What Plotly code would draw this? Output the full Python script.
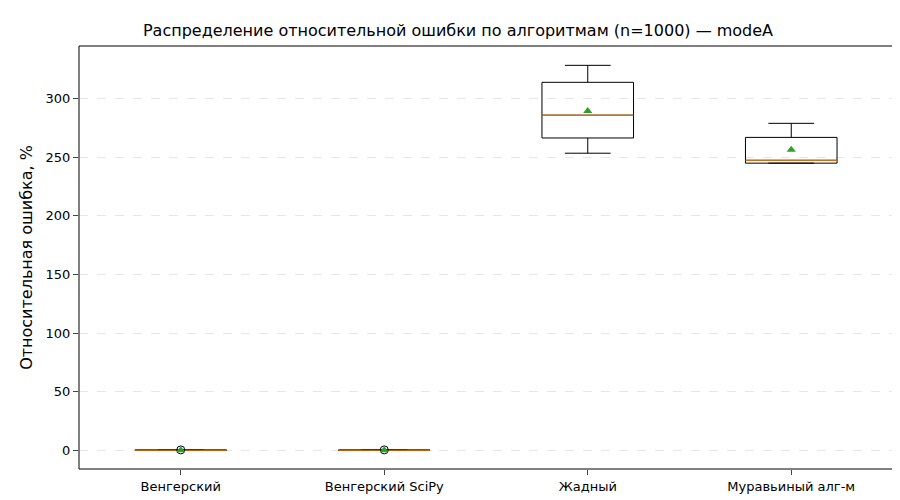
import plotly.graph_objects as go

categories = ["Венгерский", "Венгерский SciPy", "Жадный", "Муравьиный алг-м"]
positions = [1, 2, 3, 4]
lower = [0.0, 0.0, 253.5, 245.0]
q1 = [0.0, 0.0, 266.5, 245.0]
median = [0.0, 0.0, 286.0, 247.5]
q3 = [0.2, 0.2, 314.0, 267.0]
upper = [0.2, 0.2, 328.5, 279.0]
means = [0.0, 0.0, 289.5, 256.5]
outlier_x = [1, 2]
outlier_y = [0.3, 0.3]

fig = go.Figure()
fig.add_trace(go.Box(
    x=positions, q1=q1, median=median, q3=q3, lowerfence=lower, upperfence=upper,
    width=0.45, whiskerwidth=0.5, line=dict(color="black", width=1),
    fillcolor="rgba(0,0,0,0)", boxpoints=False, showlegend=False, hoverinfo="skip",
))

# orange median lines
mx, my = [], []
for p, m in zip(positions, median):
    mx += [p - 0.225, p + 0.225, None]
    my += [m, m, None]
fig.add_trace(go.Scatter(x=mx, y=my, mode="lines", line=dict(color="#ff7f0e", width=1),
                         showlegend=False))
fig.add_trace(go.Scatter(x=outlier_x, y=outlier_y, mode="markers",
                         marker=dict(symbol="circle-open", size=8, color="black", line=dict(width=1)),
                         showlegend=False))
fig.add_trace(go.Scatter(x=positions, y=means, mode="markers",
                         marker=dict(symbol="triangle-up", size=8, color="#2ca02c"),
                         showlegend=False))

fig.update_layout(
    width=900, height=500, plot_bgcolor="white", paper_bgcolor="white",
    margin=dict(l=71, r=15, t=38, b=39, autoexpand=False),
    font=dict(family="DejaVu Sans", size=13, color="black"),
    title=dict(text="Распределение относительной ошибки по алгоритмам (n=1000) — modeA",
               x=0.5, xanchor="center", y=0.955, yanchor="middle", font=dict(size=16)),
    shapes=[dict(type="rect", xref="paper", yref="paper", x0=0, x1=1, y0=0, y1=1,
                 line=dict(color="black", width=1), layer="above")],
)
fig.update_xaxes(range=[0.5, 4.5], tickvals=positions, ticktext=categories,
                 ticks="outside", showgrid=False, zeroline=False, automargin=False)
fig.update_yaxes(range=[-16, 345], tickvals=[0, 50, 100, 150, 200, 250, 300],
                 title_text="Относительная ошибка, %", title_standoff=8,
                 ticks="outside", automargin=False,
                 gridcolor="#e6e6e6", griddash="dash", zeroline=False)

fig.write_html("out.html")
